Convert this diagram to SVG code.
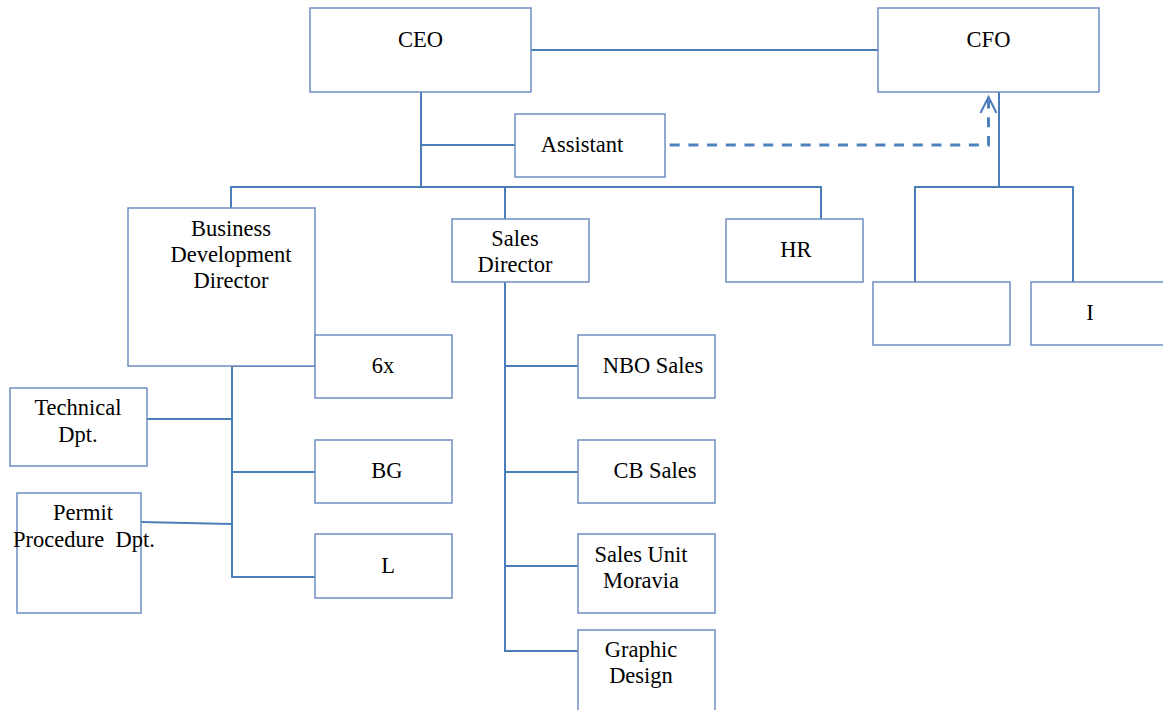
<svg xmlns="http://www.w3.org/2000/svg" width="1163" height="710" viewBox="0 0 1163 710">
<style>
.box{fill:#ffffff;stroke:#6f8fc2;stroke-width:1.5}
.t{font-family:'Liberation Serif','Times New Roman',serif;font-size:22.5px;fill:#000;text-anchor:middle}
.ln{fill:none;stroke:#4a7ebb;stroke-width:2}
.dash{fill:none;stroke:#4f81bd;stroke-width:3;stroke-dasharray:10 8.7}
</style>
<rect width="1163" height="710" fill="#ffffff"/>
<g id="connectors">
<line class="ln" x1="531" y1="50" x2="878" y2="50"/>
<path class="ln" d="M421 92 V187"/>
<path class="ln" d="M421 145 H515"/>
<path class="ln" d="M231 208 V187 H821 V219"/>
<path class="ln" d="M505 187 V219"/>
<path class="ln" d="M999 92 V187"/>
<path class="ln" d="M915 282 V187 H1073 V282"/>
<path class="ln" d="M232 366 V577 H315"/>
<path class="ln" d="M232 366 H315"/>
<path class="ln" d="M147 419 H232"/>
<path class="ln" d="M232 472 H315"/>
<path class="ln" d="M141 522 L232 524"/>
<path class="ln" d="M505 282 V651 H578"/>
<path class="ln" d="M505 366 H578"/>
<path class="ln" d="M505 472 H578"/>
<path class="ln" d="M505 566 H578"/>
<path class="dash" d="M651 145 H988.5 V100"/>
<path class="ln" d="M980.5 113 L988.5 97 L996.5 113" stroke-width="2.5"/>
</g>
<g id="ceo"><rect class="box" x="310" y="8" width="221" height="84"/><text class="t" x="420.5" y="47">CEO</text></g>
<g id="cfo"><rect class="box" x="878" y="8" width="221" height="84"/><text class="t" x="988.5" y="47">CFO</text></g>
<g id="assistant"><rect class="box" x="515" y="114" width="150" height="63"/><text class="t" x="582" y="152">Assistant</text></g>
<g id="bdd"><rect class="box" x="128" y="208" width="187" height="158"/><text class="t" x="231" y="236">Business</text><text class="t" x="231" y="262">Development</text><text class="t" x="231" y="288">Director</text></g>
<g id="sales-director"><rect class="box" x="452" y="219" width="137" height="63"/><text class="t" x="515" y="246">Sales</text><text class="t" x="515" y="272">Director</text></g>
<g id="hr"><rect class="box" x="726" y="219" width="137" height="63"/><text class="t" x="796" y="257">HR</text></g>
<g id="cfo-unit-1"><rect class="box" x="873" y="282" width="137" height="63"/></g>
<g id="cfo-unit-i"><rect class="box" x="1031" y="282" width="137" height="63"/><text class="t" x="1090" y="320">I</text></g>
<g id="unit-6x"><rect class="box" x="315" y="335" width="137" height="63"/><text class="t" x="383" y="373">6x</text></g>
<g id="technical"><rect class="box" x="10" y="388" width="137" height="78"/><text class="t" x="78" y="415">Technical</text><text class="t" x="78" y="442">Dpt.</text></g>
<g id="bg"><rect class="box" x="315" y="440" width="137" height="63"/><text class="t" x="387" y="478">BG</text></g>
<g id="permit"><rect class="box" x="17" y="493" width="124" height="120"/><text class="t" x="83" y="520">Permit</text><text class="t" x="84" y="547" xml:space="preserve">Procedure  Dpt.</text></g>
<g id="l"><rect class="box" x="315" y="534" width="137" height="64"/><text class="t" x="388" y="573">L</text></g>
<g id="nbo"><rect class="box" x="578" y="335" width="137" height="63"/><text class="t" x="653" y="373">NBO Sales</text></g>
<g id="cb"><rect class="box" x="578" y="440" width="137" height="63"/><text class="t" x="655" y="478">CB Sales</text></g>
<g id="moravia"><rect class="box" x="578" y="534" width="137" height="79"/><text class="t" x="641" y="562">Sales Unit</text><text class="t" x="641" y="588">Moravia</text></g>
<g id="graphic"><rect class="box" x="578" y="630" width="137" height="100"/><text class="t" x="641" y="657">Graphic</text><text class="t" x="641" y="683">Design</text></g>
</svg>
